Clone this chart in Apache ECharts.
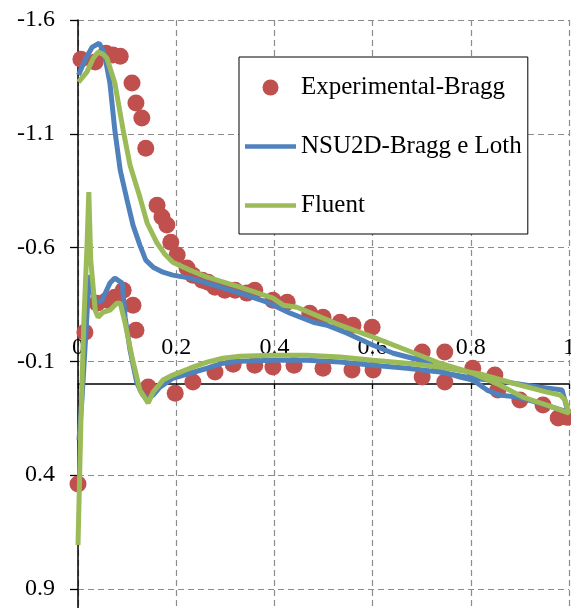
<!DOCTYPE html>
<html>
<head>
<meta charset="utf-8">
<script src="https://cdn.jsdelivr.net/npm/echarts@6/dist/echarts.min.js"></script>
<style>html,body{margin:0;padding:0;background:#fff;}#c{width:571px;height:608px;}</style>
</head>
<body>
<div id="c"></div>
<script>
// ---- data ----
var seriesNames = ["Experimental-Bragg", "NSU2D-Bragg e Loth", "Fluent"];
var xTicks = [0, 0.2, 0.4, 0.6, 0.8, 1];
var yTicks = [-1.6, -1.1, -0.6, -0.1, 0.4, 0.9];

// experimental points [x, Cp]
var expUpper = [
  [0.006,-1.428],[0.035,-1.415],[0.057,-1.454],[0.071,-1.446],[0.086,-1.441],
  [0.110,-1.323],[0.118,-1.235],[0.130,-1.169],[0.138,-1.037],[0.161,-0.786],
  [0.171,-0.734],[0.181,-0.699],[0.189,-0.624],[0.202,-0.567],[0.222,-0.510],
  [0.234,-0.479],[0.253,-0.457],[0.265,-0.448],[0.279,-0.426],[0.299,-0.413],
  [0.320,-0.413],[0.344,-0.400],[0.360,-0.413],[0.397,-0.369],[0.426,-0.360],
  [0.472,-0.312],[0.499,-0.294],[0.534,-0.272],[0.560,-0.259],[0.599,-0.250],
  [0.701,-0.141],[0.747,-0.141],[0.804,-0.070],[0.849,-0.040],[0.900,0.070],
  [0.947,0.092],[0.996,0.145]
];
var expLower = [
  [0.000,0.439],[0.014,-0.228],[0.039,-0.356],[0.059,-0.369],[0.075,-0.382],
  [0.092,-0.413],[0.112,-0.347],[0.118,-0.237],[0.143,0.013],[0.198,0.040],
  [0.234,-0.009],[0.279,-0.053],[0.316,-0.088],[0.360,-0.083],[0.397,-0.075],
  [0.440,-0.083],[0.499,-0.070],[0.558,-0.062],[0.601,-0.062],[0.701,-0.031],
  [0.747,-0.009],[0.855,0.026],[0.978,0.149]
];
// NSU2D curve (upper LE -> TE -> lower -> LE)
var nsu2d = [
  [0.001,-1.358],[0.016,-1.432],[0.029,-1.481],[0.043,-1.498],[0.053,-1.459],
  [0.065,-1.323],[0.075,-1.116],[0.086,-0.940],[0.100,-0.808],[0.112,-0.699],
  [0.126,-0.611],[0.138,-0.545],[0.153,-0.514],[0.173,-0.492],[0.193,-0.479],
  [0.228,-0.466],[0.263,-0.444],[0.330,-0.400],[0.385,-0.360],[0.432,-0.312],
  [0.479,-0.272],[0.507,-0.259],[0.548,-0.224],[0.601,-0.171],[0.642,-0.136],
  [0.697,-0.105],[0.717,-0.092],[0.731,-0.062],[0.778,-0.031],[0.804,-0.018],
  [0.833,0.026],[0.859,0.048],[0.894,0.057],[0.941,0.083],[0.998,0.123],
  [0.986,0.026],[0.941,0.013],[0.874,-0.009],[0.804,-0.026],[0.737,-0.053],
  [0.670,-0.070],[0.601,-0.083],[0.534,-0.097],[0.466,-0.105],[0.397,-0.105],
  [0.330,-0.101],[0.295,-0.092],[0.263,-0.070],[0.228,-0.048],[0.193,-0.026],
  [0.167,0.013],[0.153,0.048],[0.143,0.062],[0.132,0.048],[0.120,-0.004],
  [0.106,-0.149],[0.096,-0.294],[0.090,-0.444],[0.075,-0.466],[0.065,-0.444],
  [0.049,-0.369],[0.035,-0.356],[0.029,-0.422],[0.024,-0.479],[0.020,-0.369],
  [0.014,-0.149],[0.008,0.070],[0.002,0.246]
];
// Fluent curve
var fluent = [
  [0.001,-1.327],[0.018,-1.371],[0.031,-1.432],[0.041,-1.459],[0.051,-1.450],
  [0.059,-1.432],[0.075,-1.323],[0.092,-1.116],[0.106,-0.962],[0.126,-0.822],
  [0.141,-0.707],[0.161,-0.620],[0.177,-0.571],[0.193,-0.536],[0.228,-0.501],
  [0.263,-0.470],[0.330,-0.426],[0.397,-0.378],[0.418,-0.347],[0.446,-0.338],
  [0.499,-0.290],[0.534,-0.259],[0.601,-0.207],[0.670,-0.149],[0.737,-0.092],
  [0.804,-0.048],[0.859,0.004],[0.906,0.057],[0.955,0.092],[1.000,0.127],
  [0.992,0.070],[0.982,0.048],[0.955,0.035],[0.886,-0.004],[0.819,-0.045],
  [0.737,-0.075],[0.670,-0.092],[0.601,-0.105],[0.534,-0.119],[0.466,-0.127],
  [0.397,-0.127],[0.330,-0.123],[0.295,-0.114],[0.263,-0.097],[0.228,-0.070],
  [0.193,-0.040],[0.173,-0.018],[0.153,0.035],[0.143,0.083],[0.126,0.026],
  [0.110,-0.119],[0.096,-0.268],[0.086,-0.356],[0.079,-0.356],[0.065,-0.325],
  [0.051,-0.316],[0.041,-0.294],[0.035,-0.325],[0.026,-0.545],[0.022,-0.844],
  [0.018,-0.589],[0.012,-0.281],[0.006,0.158],[0.000,0.707]
];

var FONT = "'Liberation Serif','Times New Roman',serif";
var Y_MIN = -1.6, Y_MAX = 1.1;
var PX_PER_UNIT = 227.6;
var chart = echarts.init(document.getElementById('c'), null, {renderer:'canvas'});
function onTick(v){
  for (var i=0;i<yTicks.length;i++){ if (Math.abs(v-yTicks[i])<1e-6) return true; }
  return false;
}
var dash = {color:'#8c8c8c',type:[6,4],width:1.2};
chart.setOption({
  animation:false,
  backgroundColor:'#ffffff',
  grid:[
    {left:78,top:20,width:491,height:(Y_MAX-Y_MIN)*PX_PER_UNIT,containLabel:false,outerBoundsMode:'none'},
    {left:78,top:20,width:491,height:(0-Y_MIN)*PX_PER_UNIT,containLabel:false,outerBoundsMode:'none'}
  ],
  legend:{
    orient:'vertical', left:239, top:57,
    backgroundColor:'#ffffff', borderColor:'#000', borderWidth:1,
    padding:[18,6,16,6],
    itemWidth:51, itemHeight:16, itemGap:34,
    textStyle:{fontFamily:FONT,fontSize:25,lineHeight:25,color:'#000'},
    data:[
      {name:seriesNames[0], icon:'circle'},
      {name:seriesNames[1], icon:'path://M0,0L51,0L51,4.5L0,4.5Z'},
      {name:seriesNames[2], icon:'path://M0,0L51,0L51,4.5L0,4.5Z'}
    ]
  },
  xAxis:[
    {
      gridIndex:0, type:'value', min:0, max:1, interval:0.2,
      axisLine:{show:false}, axisTick:{show:false}, axisLabel:{show:false},
      splitLine:{show:true,lineStyle:dash}
    },
    {
      gridIndex:1, type:'value', min:0, max:1, interval:0.2, position:'bottom',
      axisLine:{show:true,onZero:false,lineStyle:{color:'#000',width:1.5}},
      axisTick:{show:true,inside:false,length:5,lineStyle:{color:'#000',width:1.3}},
      axisLabel:{inside:true,margin:24,fontFamily:FONT,fontSize:24,color:'#000',
        formatter:function(v){return String(Math.round(v*10)/10);}},
      splitLine:{show:false}
    }
  ],
  yAxis:[
    {
      gridIndex:0, type:'value', inverse:true, min:Y_MIN, max:Y_MAX, interval:0.5,
      axisLine:{onZero:false,lineStyle:{color:'#000',width:1.5}},
      axisTick:{show:true,inside:false,length:8,lineStyle:{color:'#000',width:1.3}},
      axisLabel:{margin:23,fontFamily:FONT,fontSize:24,color:'#000',
        formatter:function(v){return onTick(v)?(Math.round(v*10)/10).toFixed(1):'';}},
      splitLine:{show:true,lineStyle:dash}
    },
    {
      gridIndex:1, type:'value', inverse:true, min:Y_MIN, max:0, show:false,
      splitLine:{show:false}
    }
  ],
  series:[
    {name:seriesNames[0], type:'scatter', symbol:'circle', symbolSize:17,
      xAxisIndex:0, yAxisIndex:0,
      itemStyle:{color:'#c0504d',opacity:1}, data:expUpper.concat(expLower), z:2},
    {name:seriesNames[1], type:'line', showSymbol:false, symbol:'none',
      xAxisIndex:0, yAxisIndex:0,
      lineStyle:{color:'#4f81bd',width:5}, itemStyle:{color:'#4f81bd'}, data:nsu2d, z:3},
    {name:seriesNames[2], type:'line', showSymbol:false, symbol:'none',
      xAxisIndex:0, yAxisIndex:0,
      lineStyle:{color:'#9bbb59',width:5}, itemStyle:{color:'#9bbb59'}, data:fluent, z:4}
  ]
});
</script>
</body>
</html>
